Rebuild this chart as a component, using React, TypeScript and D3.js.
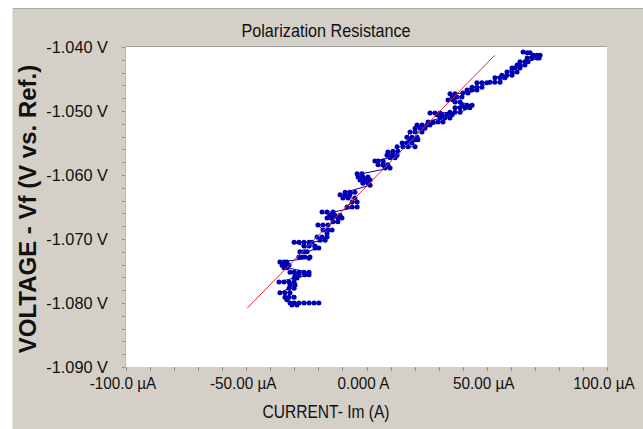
import React from 'react';
import * as d3 from 'd3';

const width = 643;
const height = 429;
const margin = { left: 126, top: 47, right: 36, bottom: 62 };

// measured current (µA) and potential (V vs. Ref.), scan order bottom -> top
const currentUA = [
  -19.8, -21.8, -23.9, -26.0, -28.1, -30.1, -31.8,
  -31.0, -28.9,
  -33.1,
  -33.9, -32.2, -30.1,
  -31.8, -33.9, -36.0,
  -32.2, -30.1,
  -29.7, -31.8,
  -30.1, -32.2, -34.3, -36.4,
  -30.1, -28.9,
  -23.9, -25.6, -28.1, -29.7,
  -31.8, -30.1, -28.1, -26.0, -23.9,
  -33.1, -34.3,
  -35.1, -33.9, -32.2,
  -33.1, -34.3, -36.0,
  -23.9,
  -23.5, -25.6, -26.8, -28.1,
  -27.7, -26.0, -24.7,
  -19.8, -21.4,
  -21.4, -23.9, -26.0,
  -30.1, -28.1, -26.0, -23.9, -22.7,
  -17.2, -19.3,
  -20.6, -18.5, -16.4,
  -16.4,
  -14.3, -16.0, -18.1,
  -20.2, -18.1, -16.0,
  -11.9, -13.9,
  -16.4, -14.3, -11.9, -10.2,
  -11.0, -13.1, -15.2,
  -18.5, -16.4, -13.9,
  -3.9, -6.0, -8.1,
  -6.0, -3.9,
  -4.8, -7.7, -9.8,
  -11.0, -8.9, -6.9,
  -4.8, -6.9, -8.9,
  1.5,
  0.6, -1.5,
  -2.7, -0.6, 1.5,
  0.6, -1.5, -3.5,
  -3.9, -1.9,
  9.8, 7.7,
  4.8, 6.9, 8.9,
  6.9, 4.8, 3.5,
  9.8, 11.9,
  12.7, 10.6, 8.5,
  8.9, 11.0,
  11.0, 13.1,
  12.7, 15.2, 17.3, 20.2,
  18.9, 16.8, 14.8,
  18.1, 20.2, 21.4,
  21.0, 18.9, 16.8,
  18.1, 20.2, 23.1,
  24.3, 22.2, 20.2,
  21.0, 23.1, 25.2, 26.4,
  31.8, 29.7, 27.7, 25.6,
  30.6, 32.6, 34.7,
  35.6, 33.5, 31.4, 29.3,
  26.4, 28.5, 30.6,
  34.7, 36.8, 38.9,
  43.0, 41.0, 38.9, 36.8,
  39.7, 41.8, 43.9,
  38.9, 36.8,
  33.9, 36.0,
  39.7, 37.6, 35.6,
  34.7, 36.8,
  40.1, 42.2,
  45.9, 43.9, 41.8,
  43.9, 45.9, 48.0,
  50.1, 48.0, 45.9,
  51.4, 53.4, 55.5,
  57.6, 55.5, 53.4,
  56.3, 58.4, 60.5,
  62.6, 60.5, 58.4,
  60.5, 61.7, 63.8,
  65.9, 63.8, 62.6,
  63.8, 65.9, 67.2,
  71.8, 70.9, 68.8, 66.8,
  69.2, 70.9, 72.2,
  68.0, 66.8,
  65.1,
];

const voltageV = [
  -1.0800, -1.0800, -1.0800, -1.0800, -1.0800, -1.0800, -1.0800,
  -1.0803, -1.0803,
  -1.0795,
  -1.0791, -1.0791, -1.0791,
  -1.0784, -1.0784, -1.0784,
  -1.0777, -1.0777,
  -1.0772, -1.0772,
  -1.0767, -1.0767, -1.0767, -1.0767,
  -1.0761, -1.0761,
  -1.0756, -1.0756, -1.0756, -1.0756,
  -1.0752, -1.0752, -1.0752, -1.0752, -1.0752,
  -1.0745, -1.0745,
  -1.0741, -1.0741, -1.0741,
  -1.0736, -1.0736, -1.0736,
  -1.0730,
  -1.0728, -1.0728, -1.0728, -1.0728,
  -1.0720, -1.0720, -1.0720,
  -1.0714, -1.0714,
  -1.0711, -1.0711, -1.0711,
  -1.0705, -1.0705, -1.0705, -1.0705, -1.0705,
  -1.0702, -1.0702,
  -1.0697, -1.0697, -1.0697,
  -1.0691,
  -1.0686, -1.0686, -1.0686,
  -1.0678, -1.0678, -1.0678,
  -1.0673, -1.0673,
  -1.0667, -1.0667, -1.0667, -1.0667,
  -1.0663, -1.0663, -1.0663,
  -1.0658, -1.0658, -1.0658,
  -1.0650, -1.0650, -1.0650,
  -1.0642, -1.0642,
  -1.0636, -1.0636, -1.0636,
  -1.0631, -1.0631, -1.0631,
  -1.0627, -1.0627, -1.0627,
  -1.0616,
  -1.0613, -1.0613,
  -1.0608, -1.0608, -1.0608,
  -1.0603, -1.0603, -1.0603,
  -1.0598, -1.0598,
  -1.0589, -1.0589,
  -1.0584, -1.0584, -1.0584,
  -1.0578, -1.0578, -1.0578,
  -1.0573, -1.0573,
  -1.0569, -1.0569, -1.0569,
  -1.0564, -1.0564,
  -1.0563, -1.0563,
  -1.0556, -1.0556, -1.0556, -1.0556,
  -1.0550, -1.0550, -1.0550,
  -1.0545, -1.0545, -1.0545,
  -1.0541, -1.0541, -1.0541,
  -1.0533, -1.0533, -1.0533,
  -1.0527, -1.0527, -1.0527,
  -1.0522, -1.0522, -1.0522, -1.0522,
  -1.0517, -1.0517, -1.0517, -1.0517,
  -1.0511, -1.0511, -1.0511,
  -1.0506, -1.0506, -1.0506, -1.0506,
  -1.0503, -1.0503, -1.0503,
  -1.0502, -1.0502, -1.0502,
  -1.0495, -1.0495, -1.0495, -1.0495,
  -1.0491, -1.0491, -1.0491,
  -1.0486, -1.0486,
  -1.0483, -1.0483,
  -1.0478, -1.0478, -1.0478,
  -1.0473, -1.0473,
  -1.0472, -1.0472,
  -1.0467, -1.0467, -1.0467,
  -1.0463, -1.0463, -1.0463,
  -1.0456, -1.0456, -1.0456,
  -1.0455, -1.0455, -1.0455,
  -1.0448, -1.0448, -1.0448,
  -1.0444, -1.0444, -1.0444,
  -1.0439, -1.0439, -1.0439,
  -1.0433, -1.0433, -1.0433,
  -1.0428, -1.0428, -1.0428,
  -1.0423, -1.0423, -1.0423,
  -1.0417, -1.0417, -1.0417, -1.0417,
  -1.0413, -1.0413, -1.0413,
  -1.0409, -1.0409,
  -1.0408,
];

// Rp fit line end points
const fitCurrentUA = [-49.6, 53.3];
const fitVoltageV = [-1.0808, -1.0413];

const xTickValues = [-100, -50, 0, 50, 100];
const xTickLabels = ['-100.0 µA', '-50.00 µA', '0.000 A', '50.00 µA', '100.0 µA'];
const yTickValues = [-1.04, -1.05, -1.06, -1.07, -1.08, -1.09];
const yTickLabels = ['-1.040 V', '-1.050 V', '-1.060 V', '-1.070 V', '-1.080 V', '-1.090 V'];

const font = 'Liberation Sans, Arial, sans-serif';
const blue = '#0000b4';

export default function App() {
  const x = d3.scaleLinear().domain([-100, 100]).range([margin.left, width - margin.right]);
  const y = d3.scaleLinear().domain([-1.09, -1.04]).range([height - margin.bottom, margin.top]);

  const points = currentUA.map((c, i) => [c, voltageV[i]] as [number, number]);
  const line = d3.line<[number, number]>().x(d => x(d[0])).y(d => y(d[1]));
  const fit = fitCurrentUA.map((c, i) => [c, fitVoltageV[i]] as [number, number]);

  const xMinor = d3.range(-100, 101, 10);
  const yMinor = d3.range(0, 26).map(i => -1.09 + i * 0.002);

  const [x0, x1] = x.range();
  const [y1, y0] = y.range();

  return (
    <svg width={width} height={height} style={{ position: 'absolute', left: 0, top: 0 }}>
      <rect x={12} y={8} width={width - 12} height={height - 8} fill="#d4d0c8" />
      <line x1={12} x2={width} y1={8.5} y2={8.5} stroke="#a8a8a8" />
      <line x1={12.5} x2={12.5} y1={8} y2={height} stroke="#e4e2dc" />

      <text transform={`translate(326,37) scale(0.9,1)`} textAnchor="middle" fontFamily={font} fontSize={18} fill="#111">
        Polarization Resistance
      </text>

      <rect x={x0} y={y0} width={x1 - x0} height={y1 - y0} fill="#fff" />
      <line x1={x0} x2={x1} y1={y0 - 0.5} y2={y0 - 0.5} stroke="#a0a0a0" />
      <line x1={x0 - 0.5} x2={x0 - 0.5} y1={y0} y2={y1} stroke="#b8b8b8" />

      {yMinor.map((v, i) => (
        <line key={'ym' + i} x1={x0 - 4} x2={x0 - 1} y1={Math.round(y(v)) + 0.5} y2={Math.round(y(v)) + 0.5} stroke="#909090" />
      ))}
      {xMinor.map((v, i) => (
        <line key={'xm' + i} x1={Math.round(x(v)) + 0.5} x2={Math.round(x(v)) + 0.5} y1={y1} y2={y1 + 4} stroke="#909090" />
      ))}

      {yTickValues.map((v, i) => (
        <text key={'yl' + i} transform={`translate(108,${y(v)}) scale(0.96,1)`} dy="0.36em" textAnchor="end" fontFamily={font} fontSize={17} fill="#111">
          {yTickLabels[i]}
        </text>
      ))}
      {xTickValues.map((v, i) => (
        <text key={'xl' + i} transform={`translate(${x(v) - 3},389) scale(0.9,1)`} textAnchor="middle" fontFamily={font} fontSize={17} fill="#111">
          {xTickLabels[i]}
        </text>
      ))}

      <text transform={`translate(326,418) scale(0.89,1)`} textAnchor="middle" fontFamily={font} fontSize={17.5} fill="#111">
        CURRENT- Im (A)
      </text>
      <text transform={`translate(36,209) rotate(-90)`} textAnchor="middle" fontFamily={font} fontSize={24} fontWeight="bold" fill="#111">
        VOLTAGE - Vf (V vs. Ref.)
      </text>

      <path d={line(points) || ''} fill="none" stroke={blue} strokeWidth={1} />
      {points.map((p, i) => (
        <circle key={'p' + i} cx={x(p[0])} cy={y(p[1])} r={2.5} fill={blue} />
      ))}
      <path d={line(fit) || ''} fill="none" stroke="#e8282c" strokeWidth={1} />
    </svg>
  );
}
